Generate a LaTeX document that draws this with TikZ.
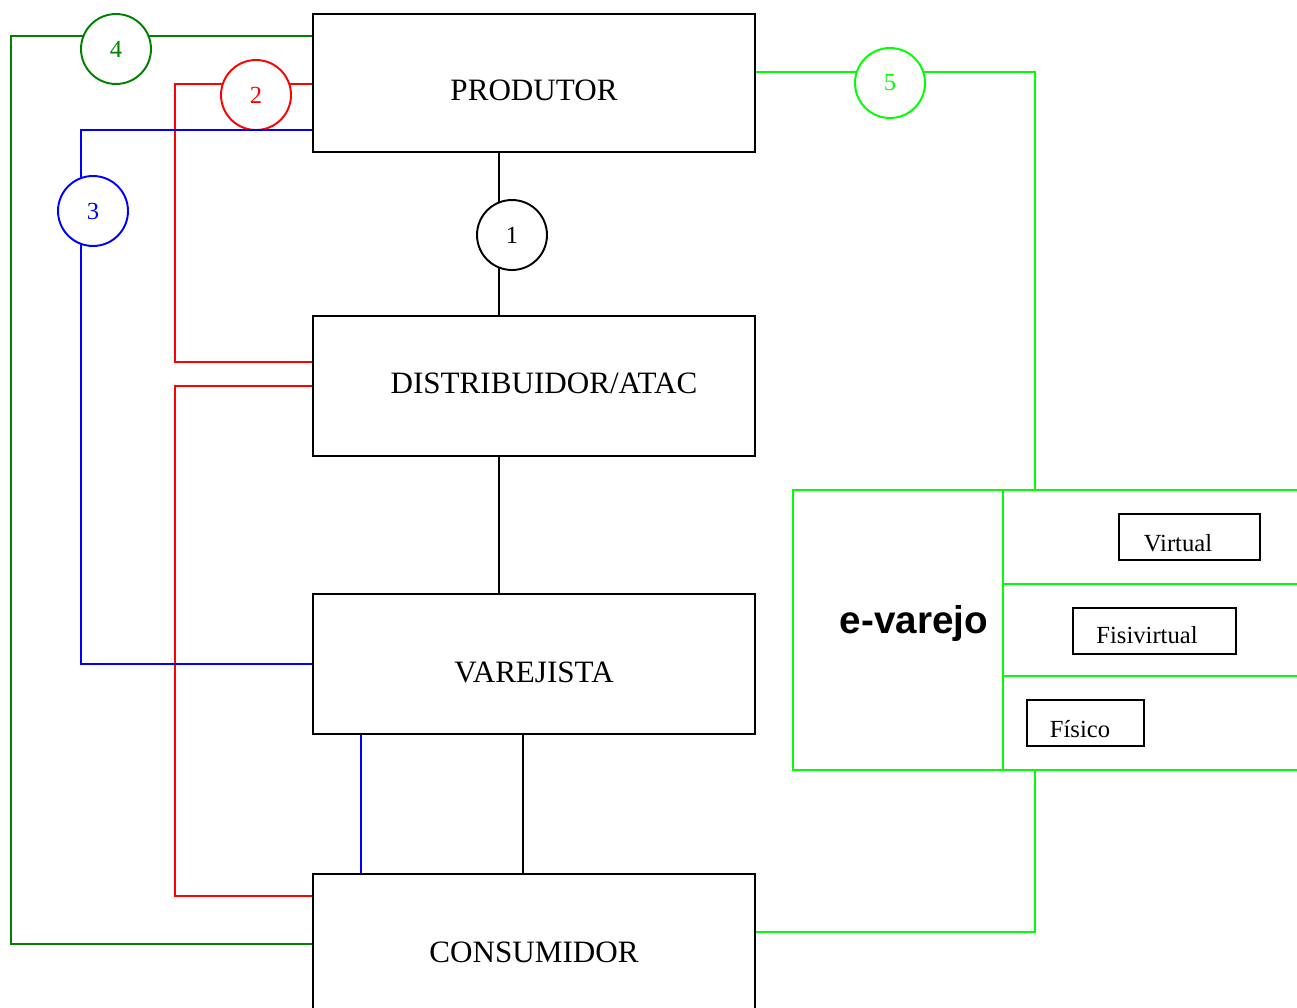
\documentclass[tikz,border=0pt]{standalone}
\usepackage{fontspec}
\setmainfont{Liberation Serif}
\newfontfamily\evfont{Liberation Sans}
\definecolor{dkgreen}{RGB}{0,128,0}
\definecolor{vgreen}{RGB}{0,255,0}

\begin{document}
\begin{tikzpicture}[x=0.02cm, y=-0.02cm, line width=1.1pt,
    box/.style={draw, inner sep=0pt, minimum width=8.84cm},
    boxtext/.style={anchor=base, inner sep=0pt, font=\fontsize{17.7}{21}\selectfont},
    numc/.style={draw=#1, text=#1, circle, fill=white, minimum size=1.4cm, inner sep=0pt, font=\fontsize{14}{16}\selectfont},
    numc/.default=black,
    cell/.style={draw=vgreen, inner sep=0pt},
    tag/.style={draw, inner sep=0pt, minimum height=0.92cm},
    tagtext/.style={anchor=base, inner sep=0pt, font=\fontsize{14}{16}\selectfont}]
            \clip (0,0) rectangle (1297,1007);
            \node[box, minimum height=2.76cm] (prod) at (534,83) {};
            \node[box, minimum height=2.8cm] (dist) at (534,386) {};
            \node[box, minimum height=2.8cm] (var) at (534,664) {};
            \node[box, minimum height=3.08cm] (cons) at (534,951) {};
            \node[boxtext] (prodtxt) at (534,100) {PRODUTOR};
            \node[boxtext] (disttxt) at (544,393) {DISTRIBUIDOR/ATAC};
            \node[boxtext] (vartxt) at (534,682) {VAREJISTA};
            \node[boxtext] (constxt) at (534,962) {CONSUMIDOR};
            % e-varejo
            \node[cell, minimum width=4.2cm, minimum height=5.6cm] (evar) at (898,630) {};
            \node[anchor=base, inner sep=0pt, font=\evfont\bfseries\fontsize{22}{26}\selectfont] (evtxt) at (914,633) {e-varejo};
            \node[cell, minimum width=6.34cm, minimum height=1.88cm] (rowv) at (1161.5,537) {};
            \node[cell, minimum width=6.34cm, minimum height=1.84cm] (rowf) at (1161.5,630) {};
            \node[cell, minimum width=6.34cm, minimum height=1.88cm] (rowp) at (1161.5,723) {};
            \node[tag, minimum width=2.82cm] (virt) at (1189.5,537) {};
            \node[tag, minimum width=3.26cm] (fisv) at (1154.5,631) {};
            \node[tag, minimum width=2.34cm] (fisi) at (1085.5,723) {};
            \node[tagtext] (virttxt) at (1178,551) {Virtual};
            \node[tagtext] (fisvtxt) at (1147,643) {Fisivirtual};
            \node[tagtext] (fisitxt) at (1080,737) {Físico};
            % corners
            \coordinate (g4a) at (11,36);
            \coordinate (g4b) at (11,944);
            \coordinate (r2a) at (175,84);
            \coordinate (r2b) at (175,362);
            \coordinate (r2c) at (175,386);
            \coordinate (r2d) at (175,896);
            \coordinate (b3a) at (81,130);
            \coordinate (b3b) at (81,664);
            \coordinate (b3c) at (361,0);
            \coordinate (k1) at (499,0);
            \coordinate (k2) at (523,0);
            \coordinate (l5a) at (1035,72);
            \coordinate (l5b) at (1035,932);
            % 4
            \draw[dkgreen] (prod.west |- g4a) -- (g4a) -- (g4b) -- (cons.west |- g4b);
            \node[numc=dkgreen] (c4) at (116,49) {4};
            % 2
            \draw[red] (prod.west |- r2a) -- (r2a) -- (r2b) -- (dist.west |- r2b);
            \draw[red] (dist.west |- r2c) -- (r2c) -- (r2d) -- (cons.west |- r2d);
            \node[numc=red] (c2) at (256,95) {2};
            % 3
            \draw[blue] (prod.west |- b3a) -- (b3a) -- (b3b) -- (var.west |- b3b);
            \draw[blue] (var.south -| b3c) -- (cons.north -| b3c);
            \node[numc=blue] (c3) at (93,211) {3};
            % 1
            \draw (prod.south -| k1) -- (dist.north -| k1);
            \draw (dist.south -| k1) -- (var.north -| k1);
            \draw (var.south -| k2) -- (cons.north -| k2);
            \node[numc] (c1) at (512,235) {1};
            % 5
            \draw[vgreen] (prod.east |- l5a) -- (l5a) -- (rowv.north -| l5a);
            \draw[vgreen] (rowp.south -| l5b) -- (l5b) -- (cons.east |- l5b);
            \node[numc=vgreen] (c5) at (890,83) {5};
        \end{tikzpicture}
\end{document}
